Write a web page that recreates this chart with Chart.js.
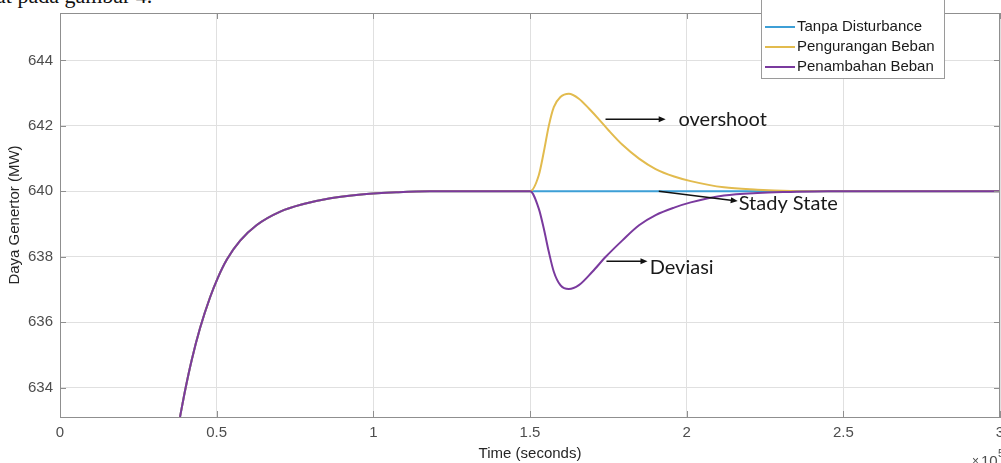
<!DOCTYPE html>
<html>
<head>
<meta charset="utf-8">
<script src="https://cdn.jsdelivr.net/npm/chart.js@4/dist/chart.umd.min.js"></script>
<style>
  body { margin: 0; background: #fff; overflow: hidden; }
  #wrap { position: relative; width: 1001px; height: 463px; }
  #doc { position: absolute; left: -4px; top: -15px; font: 22px "Liberation Serif", serif; line-height: 22px; color: #111; white-space: nowrap; }
  canvas { position: absolute; left: 0; top: 0; }
</style>
</head>
<body>
<div id="wrap">
  <div id="doc">at pada gambar 4.</div>
  <canvas id="chart" width="1001" height="463"></canvas>
</div>
<script>
// Time axis is in units of 1e5 seconds (as labelled on the figure)
const xTicks = [0, 0.5, 1, 1.5, 2, 2.5, 3];
const yTicks = [634, 636, 638, 640, 642, 644];

// start-up transient shared by all three runs
const startT = [0.383, 0.400, 0.420, 0.447, 0.479, 0.503, 0.533, 0.575, 0.628, 0.703, 0.777, 0.863, 0.969, 1.076, 1.18, 1.5];
const startV = [633.1, 633.95, 634.83, 635.82, 636.76, 637.34, 637.92, 638.49, 638.97, 639.38, 639.61, 639.79, 639.91, 639.97, 640.0, 640.0];

// Tanpa Disturbance
const blueT = [3.0];
const blueV = [640.0];

// Pengurangan Beban (load decrease -> overshoot)
const yellowT = [1.528, 1.544, 1.560, 1.576, 1.597, 1.624, 1.656, 1.688, 1.720, 1.752, 1.795, 1.848, 1.901, 1.96, 2.013, 2.119, 2.226, 2.332, 2.45, 3.0];
const yellowV = [640.49, 641.2, 642.0, 642.57, 642.88, 642.98, 642.83, 642.53, 642.2, 641.85, 641.42, 641.0, 640.68, 640.45, 640.31, 640.12, 640.05, 640.01, 640.0, 640.0];

// Penambahan Beban (load increase -> deviation)
const purpleT = [1.528, 1.544, 1.560, 1.576, 1.597, 1.624, 1.656, 1.699, 1.741, 1.795, 1.848, 1.901, 1.96, 2.013, 2.119, 2.226, 2.332, 2.45, 3.0];
const purpleV = [639.47, 638.86, 638.15, 637.54, 637.13, 637.01, 637.13, 637.54, 637.99, 638.5, 638.96, 639.27, 639.5, 639.66, 639.87, 639.95, 639.98, 640.0, 640.0];

const seriesNames = ["Tanpa Disturbance", "Pengurangan Beban", "Penambahan Beban"];
const seriesColors = ["#3d9fd6", "#e2bb4e", "#7a3a9e"];

// annotation arrows: [fromT, fromV, toT, toV], label placed after arrow tip
const noteTexts = ["overshoot", "Stady State", "Deviasi"];
const noteArrows = [
  [1.741, 642.2, 1.933, 642.2],
  [1.911, 640.0, 2.163, 639.70],
  [1.744, 637.86, 1.875, 637.86]
];
const noteLabelAt = [[1.974, 642.2], [2.166, 639.63], [1.882, 637.68]];

function toPoints(ts, vs) {
  return ts.map((t, i) => ({ x: t, y: vs[i] }));
}

const sansFont = '"Liberation Sans", Arial, sans-serif';
const axisGray = "#8f8f8f";

// box, inward tick marks, x10^5 note, arrows and legend
const decorPlugin = {
  id: "decor",
  afterDatasetsDraw(chart) {
    const { ctx, chartArea: a, scales } = chart;
    ctx.save();
    ctx.strokeStyle = axisGray;
    ctx.lineWidth = 1;
    ctx.strokeRect(a.left + 0.5, a.top + 0.5, a.right - a.left - 1, a.bottom - a.top);
    ctx.beginPath();
    xTicks.forEach((t) => {
      const px = Math.round(scales.x.getPixelForValue(t)) + 0.5;
      ctx.moveTo(px, a.bottom); ctx.lineTo(px, a.bottom - 6);
      ctx.moveTo(px, a.top); ctx.lineTo(px, a.top + 6);
    });
    yTicks.forEach((v) => {
      const py = Math.round(scales.y.getPixelForValue(v)) + 0.5;
      ctx.moveTo(a.left, py); ctx.lineTo(a.left + 6, py);
      ctx.moveTo(a.right, py); ctx.lineTo(a.right - 6, py);
    });
    ctx.stroke();

    // exponent note
    ctx.fillStyle = "#4d4d4d";
    ctx.textBaseline = "alphabetic";
    ctx.textAlign = "left";
    ctx.font = "12px " + sansFont;
    ctx.fillText("\u00d7", 972, 465);
    ctx.font = "15px " + sansFont;
    ctx.fillText("10", 981, 466);
    ctx.font = "11px " + sansFont;
    ctx.fillText("5", 998, 457);

    // arrows
    ctx.strokeStyle = "#111";
    ctx.fillStyle = "#111";
    ctx.lineWidth = 1.5;
    noteArrows.forEach(([t0, v0, t1, v1]) => {
      const x0 = scales.x.getPixelForValue(t0), y0 = scales.y.getPixelForValue(v0);
      const x1 = scales.x.getPixelForValue(t1), y1 = scales.y.getPixelForValue(v1);
      const ang = Math.atan2(y1 - y0, x1 - x0);
      ctx.beginPath();
      ctx.moveTo(x0, y0);
      ctx.lineTo(x1 - 5 * Math.cos(ang), y1 - 5 * Math.sin(ang));
      ctx.stroke();
      ctx.beginPath();
      ctx.moveTo(x1, y1);
      ctx.lineTo(x1 - 7 * Math.cos(ang) + 3 * Math.sin(ang), y1 - 7 * Math.sin(ang) - 3 * Math.cos(ang));
      ctx.lineTo(x1 - 7 * Math.cos(ang) - 3 * Math.sin(ang), y1 - 7 * Math.sin(ang) + 3 * Math.cos(ang));
      ctx.closePath();
      ctx.fill();
    });
    ctx.font = '20px Lato, "Open Sans", sans-serif';
    ctx.fillStyle = "#1a1a1a";
    ctx.textBaseline = "middle";
    noteTexts.forEach((txt, i) => {
      const [t, v] = noteLabelAt[i];
      ctx.fillText(txt, scales.x.getPixelForValue(t), scales.y.getPixelForValue(v));
    });

    // legend box
    ctx.fillStyle = "#fff";
    ctx.fillRect(761, -5, 183, 83);
    ctx.strokeStyle = "#9a9a9a";
    ctx.lineWidth = 1;
    ctx.strokeRect(761.5, -5, 183, 83.5);
    ctx.font = "15px " + sansFont;
    ctx.textBaseline = "middle";
    seriesNames.forEach((name, i) => {
      const y = 27 + i * 20;
      ctx.strokeStyle = seriesColors[i];
      ctx.lineWidth = 2;
      ctx.beginPath();
      ctx.moveTo(765, y); ctx.lineTo(795, y);
      ctx.stroke();
      ctx.fillStyle = "#1a1a1a";
      ctx.fillText(name, 797, y);
    });
    ctx.restore();
  }
};

new Chart(document.getElementById("chart"), {
  type: "line",
  data: {
    datasets: [
      {
        label: seriesNames[0],
        data: toPoints(startT.concat(blueT), startV.concat(blueV)),
        borderColor: seriesColors[0],
        order: 3,
      },
      {
        label: seriesNames[1],
        data: toPoints(startT.concat(yellowT), startV.concat(yellowV)),
        borderColor: seriesColors[1],
        order: 2,
      },
      {
        label: seriesNames[2],
        data: toPoints(startT.concat(purpleT), startV.concat(purpleV)),
        borderColor: seriesColors[2],
        order: 1,
      },
    ],
  },
  options: {
    responsive: false,
    animation: false,
    devicePixelRatio: 1,
    layout: { padding: { top: 13, right: 1, left: 0, bottom: 0 } },
    elements: {
      line: { borderWidth: 2, cubicInterpolationMode: "monotone", fill: false },
      point: { radius: 0 },
    },
    plugins: { legend: { display: false }, tooltip: { enabled: false } },
    scales: {
      x: {
        type: "linear",
        min: 0,
        max: 3,
        afterBuildTicks: (scale) => { scale.ticks = xTicks.map((v) => ({ value: v })); },
        afterFit: (scale) => { scale.height = 46; scale.paddingLeft = 0; scale.paddingRight = 0; },
        ticks: { color: "#4d4d4d", font: { family: sansFont, size: 15 }, padding: 7, maxRotation: 0, callback: (v) => String(v) },
        grid: { color: "#e0e0e0", drawTicks: false },
        border: { color: axisGray },
        title: { display: true, text: "Time (seconds)", color: "#262626", font: { family: sansFont, size: 15 }, padding: { top: 0, bottom: 0 } },
      },
      y: {
        min: 633.1,
        max: 645.45,
        afterBuildTicks: (scale) => { scale.ticks = yTicks.map((v) => ({ value: v })); },
        afterFit: (scale) => { scale.width = 60; scale.paddingTop = 0; scale.paddingBottom = 0; },
        ticks: { color: "#4d4d4d", font: { family: sansFont, size: 15 }, padding: 7 },
        grid: { color: "#e0e0e0", drawTicks: false },
        border: { color: axisGray },
        title: { display: true, text: "Daya Genertor (MW)", color: "#262626", font: { family: sansFont, size: 15 }, padding: { top: 6, bottom: 0 } },
      },
    },
  },
  plugins: [decorPlugin],
});
</script>
</body>
</html>
